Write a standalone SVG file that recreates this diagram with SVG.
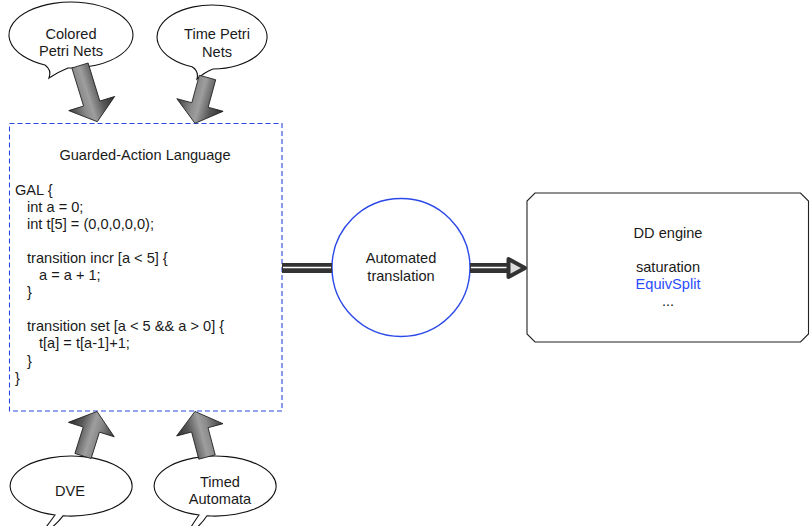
<svg xmlns="http://www.w3.org/2000/svg" width="810" height="526" viewBox="0 0 810 526">
<style>
  text { font-family: "Liberation Sans", Arial, Helvetica, sans-serif; font-size: 14.6px; fill: #1a1a1a; }
  .c { text-anchor: middle; }
  .bubble { fill: #ffffff; stroke: #111; stroke-width: 1.1; }
  .fat { fill: url(#fatGrad); stroke: #1e1e1e; stroke-width: 0.8; stroke-linejoin: miter; }
  .dark { stroke: #333; stroke-width: 10; fill: none; }
  .inner { stroke: #fff; stroke-width: 1.5; fill: none; }
</style>
<defs>
  <linearGradient id="fatGrad" gradientUnits="userSpaceOnUse" x1="-24" y1="0" x2="24" y2="0">
    <stop offset="0" stop-color="#3a3a3a"/>
    <stop offset="0.33" stop-color="#8a8a8a"/>
    <stop offset="0.48" stop-color="#9e9e9e"/>
    <stop offset="0.72" stop-color="#5a5a5a"/>
    <stop offset="1" stop-color="#2c2c2c"/>
  </linearGradient>
</defs>

<g id="gal">
  <rect x="9.5" y="123.5" width="272.5" height="287.5" fill="#fff" stroke="#2b48e0" stroke-width="1.1" stroke-dasharray="5 3"/>
  <text class="c" x="145" y="160">Guarded-Action Language</text>
  <text x="15" y="194.5">GAL {</text>
  <text x="27" y="211.6">int a = 0;</text>
  <text x="27" y="228.7">int t[5] = (0,0,0,0,0);</text>
  <text x="27" y="262.9">transition incr [a &lt; 5] {</text>
  <text x="39" y="280">a = a + 1;</text>
  <text x="27" y="297.1">}</text>
  <text x="27" y="331.3">transition set [a &lt; 5 &amp;&amp; a &gt; 0] {</text>
  <text x="39" y="348.4">t[a] = t[a-1]+1;</text>
  <text x="27" y="365.5">}</text>
  <text x="15" y="382.6">}</text>
</g>

<g id="colored-petri-nets">
  <path class="bubble" d="M 68 68 A 62 33 0 1 0 45 65 Q 52 70 49 78 Q 58 72 68 68 Z"/>
  <text class="c" x="71" y="38.5">Colored</text>
  <text class="c" x="71" y="56">Petri Nets</text>
</g>

<g id="time-petri-nets">
  <path class="bubble" d="M 213 69 A 55 32 0 1 0 192 66.8 Q 199 71 197 79 Q 205 72 213 69 Z"/>
  <text class="c" x="217" y="39">Time Petri</text>
  <text class="c" x="217" y="56.5">Nets</text>
</g>

<g id="dve">
  <path class="bubble" d="M 63 515.8 A 61 30 0 1 0 55 515 Q 50 522 40 535 Q 54 528 63 515.8 Z"/>
  <text class="c" x="70" y="496">DVE</text>
</g>

<g id="timed-automata">
  <path class="bubble" d="M 207 515.8 A 61 30 0 1 0 199 515 Q 194 522 186 535 Q 199 528 207 515.8 Z"/>
  <text class="c" x="220" y="487">Timed</text>
  <text class="c" x="220" y="503.5">Automata</text>
</g>

<g id="automated-translation">
  <circle cx="401" cy="267.5" r="69" fill="#fff" stroke="#2b48e8" stroke-width="1.4"/>
  <text class="c" x="401" y="263">Automated</text>
  <text class="c" x="401" y="281">translation</text>
</g>

<g id="dd-engine">
  <path d="M 535 193 L 800.5 193 L 808.5 201 L 808.5 334 L 800.5 342 L 535 342 L 527 334 L 527 201 Z" fill="#fff" stroke="#222" stroke-width="1.1"/>
  <text class="c" x="668" y="237.5">DD engine</text>
  <text class="c" x="668" y="272">saturation</text>
  <text class="c" x="668" y="289" style="fill:#2a4cff">EquivSplit</text>
  <text class="c" x="668" y="305.5">...</text>
</g>

<g id="connectors">
  <path class="fat" transform="translate(80 65.5) rotate(-17.1)" d="M -8.5 0 L 8.5 0 L 8.5 39.8 L 24 39.8 L 0 58.8 L -24 39.8 L -8.5 39.8 Z"/>
  <path class="fat" transform="translate(207.5 77.5) rotate(15.3)" d="M -8.5 0 L 8.5 0 L 8.5 28.5 L 24 28.5 L 0 47.5 L -24 28.5 L -8.5 28.5 Z"/>
  <path class="fat" transform="translate(83 456) rotate(-162.5)" d="M -8.5 0 L 8.5 0 L 8.5 27.7 L 24 27.7 L 0 46.7 L -24 27.7 L -8.5 27.7 Z"/>
  <path class="fat" transform="translate(207 457) rotate(165.2)" d="M -8.5 0 L 8.5 0 L 8.5 28.1 L 24 28.1 L 0 47.1 L -24 28.1 L -8.5 28.1 Z"/>
  <line class="dark" x1="282" y1="268" x2="332" y2="268"/>
  <line class="inner" x1="283" y1="267.5" x2="331" y2="267.5"/>
  <line class="dark" x1="470" y1="268" x2="510" y2="268"/>
  <line class="inner" x1="471" y1="267.5" x2="508" y2="267.5"/>
  <path d="M 508.5 259 L 525 268 L 508.5 277 Z" fill="#dcdcdc" stroke="#333" stroke-width="4" stroke-linejoin="round"/>
</g>
</svg>
